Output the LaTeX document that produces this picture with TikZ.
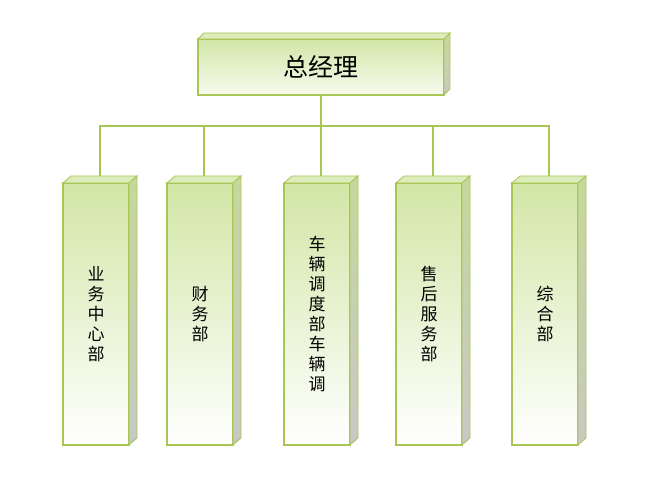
\documentclass[tikz,border=0pt]{standalone}
\usepackage{fontspec}
\newfontfamily\cjk{Noto Sans CJK SC}
\definecolor{edgegreen}{HTML}{A8C653}
\definecolor{facegreen}{HTML}{D2E6A6}
\definecolor{topgreen}{HTML}{DCECBA}
\definecolor{sidegreen}{HTML}{C6D89C}
\definecolor{sidegrey}{HTML}{C8C8C4}

\begin{document}
\begin{tikzpicture}[x=1pt, y=1pt,
    gmbox/.style={rectangle, draw=edgegreen, line width=1.2pt, outer sep=0pt, top color=facegreen, bottom color=facegreen!18, minimum width=246pt, minimum height=56pt, font=\cjk\fontsize{25}{28}\selectfont},
    deptbox/.style={rectangle, draw=edgegreen, line width=1.2pt, outer sep=0pt, top color=facegreen, middle color=facegreen!40, bottom color=white, minimum width=66pt, minimum height=262pt, inner sep=0pt, align=center, font=\cjk\fontsize{17}{20}\selectfont},
    topface/.style={fill=topgreen, draw=edgegreen, line width=0.8pt},
    sideface/.style={top color=sidegreen, bottom color=sidegrey, draw=edgegreen, line width=0.8pt},
    link/.style={draw=edgegreen, line width=2pt}]

    \useasboundingbox (0,0) rectangle (666,477);

    \node (gm) [gmbox] at (321,410) {总经理};
    \coordinate (bus) at (321,351);

    \node (d1) [deptbox] at (96,163) {业\\务\\中\\心\\部};
    \node (d2) [deptbox] at (200,163) {财\\务\\部};
    \node (d3) [deptbox] at (317,163) {车\\辆\\调\\度\\部\\车\\辆\\调};
    \node (d4) [deptbox] at (429,163) {售\\后\\服\\务\\部};
    \node (d5) [deptbox] at (545,163) {综\\合\\部};

    % 3d faces
    \draw[topface] (gm.north west) -- ++(6,6) -- ([shift={(6,6)}]gm.north east) -- (gm.north east) -- cycle;
    \shadedraw[sideface] (gm.north east) -- ++(6,6) -- ([shift={(6,6)}]gm.south east) -- (gm.south east) -- cycle;
    \draw[topface] (d1.north west) -- ++(8,7) -- ([shift={(8,7)}]d1.north east) -- (d1.north east) -- cycle;
    \shadedraw[sideface] (d1.north east) -- ++(8,7) -- ([shift={(8,7)}]d1.south east) -- (d1.south east) -- cycle;
    \draw[topface] (d2.north west) -- ++(8,7) -- ([shift={(8,7)}]d2.north east) -- (d2.north east) -- cycle;
    \shadedraw[sideface] (d2.north east) -- ++(8,7) -- ([shift={(8,7)}]d2.south east) -- (d2.south east) -- cycle;
    \draw[topface] (d3.north west) -- ++(8,7) -- ([shift={(8,7)}]d3.north east) -- (d3.north east) -- cycle;
    \shadedraw[sideface] (d3.north east) -- ++(8,7) -- ([shift={(8,7)}]d3.south east) -- (d3.south east) -- cycle;
    \draw[topface] (d4.north west) -- ++(8,7) -- ([shift={(8,7)}]d4.north east) -- (d4.north east) -- cycle;
    \shadedraw[sideface] (d4.north east) -- ++(8,7) -- ([shift={(8,7)}]d4.south east) -- (d4.south east) -- cycle;
    \draw[topface] (d5.north west) -- ++(8,7) -- ([shift={(8,7)}]d5.north east) -- (d5.north east) -- cycle;
    \shadedraw[sideface] (d5.north east) -- ++(8,7) -- ([shift={(8,7)}]d5.south east) -- (d5.south east) -- cycle;

    % connectors
    \draw[link] (gm) -- (gm |- bus);
    \draw[link] ([shift={(4,7)}]d1.north) |- (bus);
    \draw[link] ([shift={(4,7)}]d2.north) |- (bus);
    \draw[link] ([shift={(4,7)}]d3.north) |- (bus);
    \draw[link] ([shift={(4,7)}]d4.north) |- (bus);
    \draw[link] ([shift={(4,7)}]d5.north) |- (bus);

\end{tikzpicture}
\end{document}
